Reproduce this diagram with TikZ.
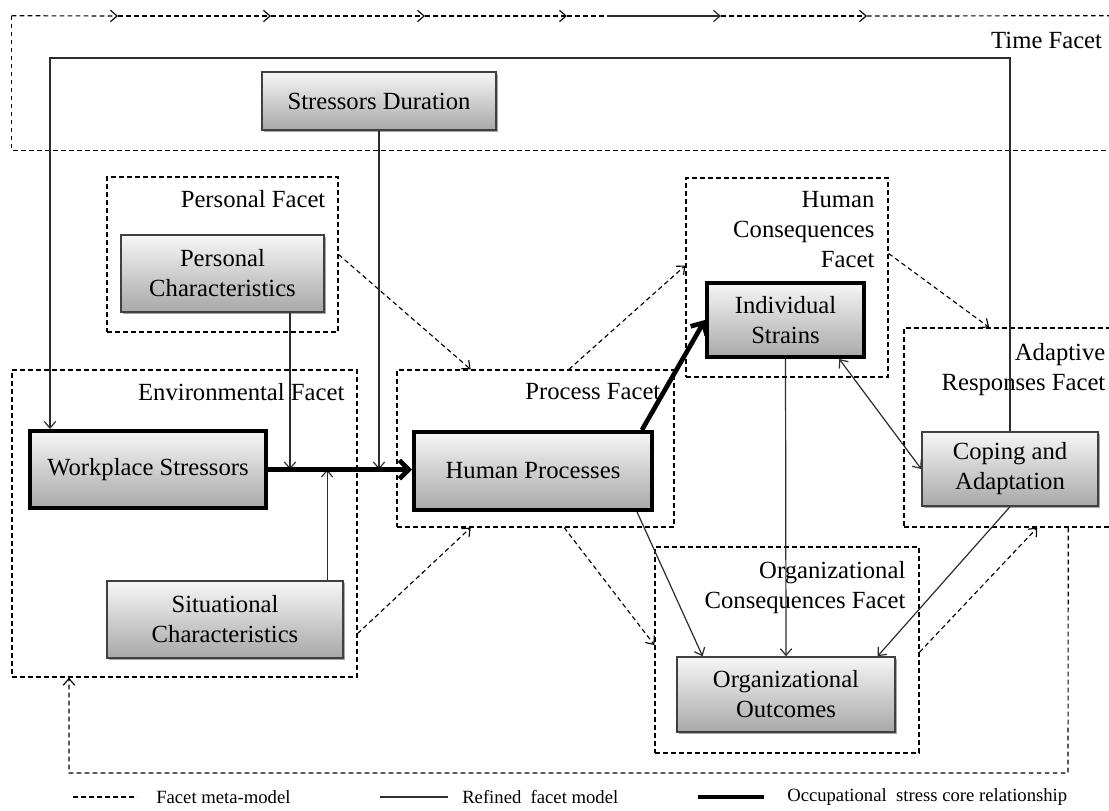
\documentclass[tikz,border=0pt]{standalone}
\usepackage{fontspec}
\setmainfont{Liberation Serif}
\usetikzlibrary{arrows.meta,calc,fit,shadows}

\definecolor{boxtop}{RGB}{246,246,246}
\definecolor{boxbot}{RGB}{168,168,168}
\definecolor{linegray}{RGB}{45,45,45}

\begin{document}
\begin{tikzpicture}[x=0.75pt,y=-0.75pt,
  facet/.style={draw=black, line width=0.9pt, dash pattern=on 3.5pt off 2.5pt, inner sep=0pt},
  facetline/.style={draw=black, line width=0.9pt, dash pattern=on 3.5pt off 2.5pt},
  facetlabel/.style={anchor=north east, align=right, inner sep=0pt, font=\fontsize{18.5}{22.5}\selectfont},
  box/.style={draw=black!75, line width=1.1pt, top color=boxtop, bottom color=boxbot,
    inner sep=0pt, align=center, font=\fontsize{18.5}{22.5}\selectfont,
    drop shadow={shadow xshift=1.2pt, shadow yshift=-1.6pt, opacity=0.35, fill=black}},
  corebox/.style={box, draw=black, line width=3pt},
  meta/.style={draw=black, line width=0.85pt, dash pattern=on 3.5pt off 2.5pt,
    -{Straight Barb[length=5pt,width=8.5pt]}},
  timearrow/.style={meta},
  refined/.style={draw=linegray, line width=0.9pt, -{Straight Barb[length=5pt,width=8.5pt]}},
  twoway/.style={draw=linegray, line width=0.9pt,
    {Straight Barb[length=5pt,width=8.5pt]}-{Straight Barb[length=5pt,width=8.5pt]}},
  core/.style={draw=black, line width=3.5pt, -{Straight Barb[length=7pt,width=14pt]}},
  legendtext/.style={anchor=west, inner sep=0pt, font=\fontsize{14}{16}\selectfont},
]
\useasboundingbox (0,0) rectangle (1109,810);
\clip (0,0) rectangle (1109,810);
\fill[white] (0,0) rectangle (1109,810);

% ---------- facets (meta-model) ----------
\node[inner sep=0pt, fit={(12,16)(1112,150)}] (tF) {};
\node[facet, fit={(107,177)(338,332)}] (pF) {};
\node[facet, fit={(12,370)(357,677)}] (eF) {};
\node[facet, fit={(397,370)(674,527)}] (prF) {};
\node[facet, fit={(686,178)(888,377)}] (hF) {};
\node[facet, fit={(904,328)(1112,527)}] (aF) {};
\node[facet, fit={(655,547)(919,753)}] (oF) {};

% time facet: left and bottom sides, top side is the time axis
\draw[facetline] (tF.north west) -- (tF.south west) -- (tF.south east);
\coordinate (t1) at (118,16);
\coordinate (t2) at (271,16);
\coordinate (t3) at (425,16);
\coordinate (t4) at (567,16);
\coordinate (t4b) at (607,16);
\coordinate (t5) at (721,16);
\coordinate (t6) at (867,16);
\draw[timearrow] (tF.north west) -- (t1);
\draw[timearrow] (t1) -- (t2);
\draw[timearrow] (t2) -- (t3);
\draw[timearrow] (t3) -- (t4);
\draw[facetline] (t4) -- (t4b);
\draw[refined] (t4b) -- (t5);
\draw[timearrow] (t5) -- (t6);
\draw[facetline] (t6) -- (tF.north east);

% facet labels
\node[facetlabel] (tFl) at ($(tF.north east)+(-10,16)$) {Time Facet};
\node[facetlabel] (pFl) at ($(pF.north east)+(-13,14)$) {Personal Facet};
\node[facetlabel] (eFl) at ($(eF.north east)+(-13,14)$) {Environmental Facet};
\node[facetlabel] (prFl) at ($(prF.north east)+(-14,14)$) {Process Facet};
\node[facetlabel] (hFl) at ($(hF.north east)+(-14,14)$) {Human\\Consequences\\Facet};
\node[facetlabel] (aFl) at ($(aF.north east)+(-7,16)$) {Adaptive\\Responses Facet};
\node[facetlabel] (oFl) at ($(oF.north east)+(-14,15)$) {Organizational\\Consequences Facet};

% ---------- refined model boxes ----------
\node[box, minimum width=175.5pt, minimum height=43.5pt] (SD) at (379,101) {Stressors Duration};
\node[box, minimum width=152.25pt, minimum height=57.75pt] (PC) at (222.5,273.5) {Personal\\Characteristics};
\node[corebox, minimum width=177pt, minimum height=57.75pt] (WS) at (148,469.5) {Workplace Stressors};
\node[box, minimum width=177pt, minimum height=57.75pt] (SC) at (225,619.5) {Situational\\Characteristics};
\node[corebox, minimum width=178.5pt, minimum height=58.5pt] (HP) at (533,471) {Human Processes};
\node[corebox, minimum width=117.75pt, minimum height=55.5pt] (IS) at (785.5,320) {Individual\\Strains};
\node[box, minimum width=132pt, minimum height=55.5pt] (CA) at (1010,469) {Coping and\\Adaptation};
\node[box, minimum width=163.5pt, minimum height=56.25pt] (OO) at (786,694.5) {Organizational\\Outcomes};

% ---------- meta-model relationships ----------
\draw[meta] (pF.east) -- ($(prF.north west)!0.267!(prF.north east)$);
\draw[meta] ($(prF.north west)!0.62!(prF.north east)$) -- ($(hF.north west)!0.44!(hF.south west)$);
\draw[meta] ($(hF.north east)!0.38!(hF.south east)$) -- ($(aF.north west)!0.41!(aF.north east)$);
\draw[meta] ($(eF.north east)!0.857!(eF.south east)$) -- ($(prF.south west)!0.267!(prF.south east)$);
\draw[meta] ($(prF.south west)!0.603!(prF.south east)$) -- ($(oF.north west)!0.476!(oF.south west)$);
\draw[meta] ($(oF.north east)!0.51!(oF.south east)$) -- ($(aF.south west)!0.64!(aF.south east)$);
\coordinate (fbR) at (1068,773);
\coordinate (fbL) at (69,773);
\draw[meta] ($(aF.south west)!0.788!(aF.south east)$) -- (fbR) -- (fbL) -- (fbL |- eF.south);

% ---------- refined relationships ----------
\coordinate (pcOut) at ($(PC.south west)!0.83!(PC.south east)$);
\draw[refined] (pcOut) -- (pcOut |- WS.east);
\draw[refined] (SD.south) -- (SD.south |- WS.east);
\coordinate (scOut) at ($(SC.north west)!0.93!(SC.north east)$);
\draw[refined] (scOut) -- (scOut |- WS.east);
\coordinate (lpR) at (1010,58);
\coordinate (lpL) at (50,58);
\draw[refined] (CA.north) -- (lpR) -- (lpL) -- (lpL |- WS.north);
\draw[refined] ($(HP.south west)!0.93!(HP.south east)$) -- ($(OO.north west)!0.12!(OO.north east)$);
\draw[refined] (IS.south) -- (OO.north);
\draw[refined] (CA.south) -- ($(OO.north west)!0.917!(OO.north east)$);
\draw[twoway] ($(IS.south west)!0.834!(IS.south east)$) -- (CA.west);

% ---------- occupational stress core ----------
\draw[core] (WS.east) -- (WS.east -| HP.west);
\draw[core] ($(HP.north west)!0.95!(HP.north east)$) -- (IS.west);

% ---------- legend ----------
\coordinate (lgA1) at (73,797);
\coordinate (lgA2) at (137,797);
\coordinate (lgB1) at (380,797);
\coordinate (lgB2) at (448,797);
\coordinate (lgC1) at (698,797);
\coordinate (lgC2) at (764,797);
\draw[facetline] (lgA1) -- (lgA2);
\draw[draw=linegray, line width=0.9pt] (lgB1) -- (lgB2);
\draw[draw=black, line width=3.5pt] (lgC1) -- (lgC2);
\node[legendtext] (lgAt) at (156,797) {Facet meta-model};
\node[legendtext] (lgBt) at (462,797) {Refined\ \ facet model};
\node[legendtext] (lgCt) at (787,797) {Occupational\ \ stress core relationship};
\end{tikzpicture}
\end{document}
